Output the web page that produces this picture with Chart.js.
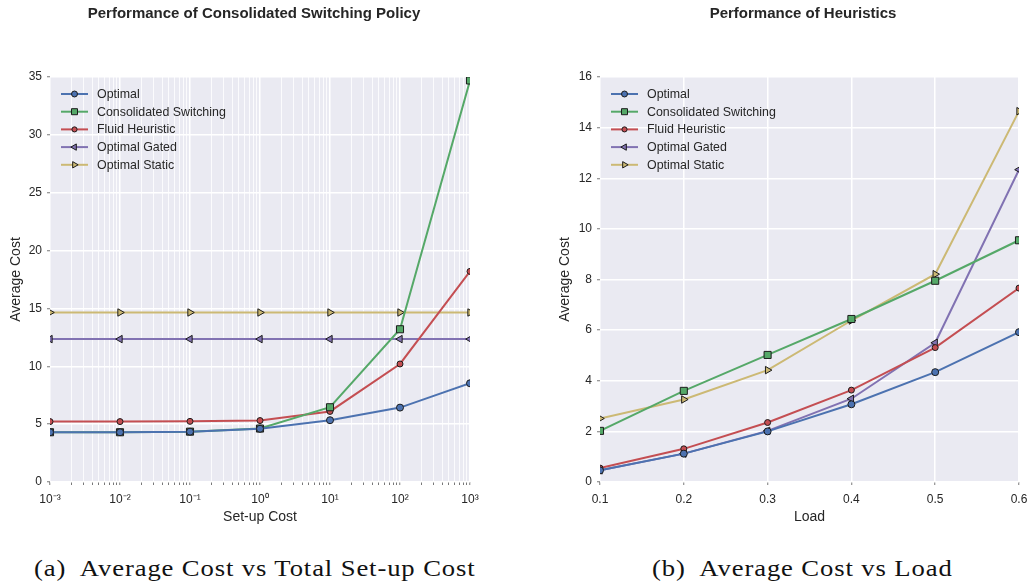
<!DOCTYPE html>
<html>
<head>
<meta charset="utf-8">
<script src="https://cdn.jsdelivr.net/npm/chart.js@4.4.0/dist/chart.umd.min.js"></script>
<style>
  html, body { margin: 0; padding: 0; background: #ffffff; width: 1029px; height: 583px; overflow: hidden; }
  .panel { position: absolute; top: 0; height: 540px; }
  #panelA { left: 0; width: 510px; }
  #panelB { left: 549px; width: 480px; }
  .caption {
    position: absolute; top: 553px;
    font-family: "Liberation Serif", "Times New Roman", serif; font-size: 24px; letter-spacing: 0.8px;
    color: #111; white-space: pre; line-height: 30px;
    transform: scaleX(1.11); transform-origin: left center;
  }
  #capA { left: 34px; }
  #capB { left: 652px; }
</style>
</head>
<body>
<div class="panel" id="panelA"><canvas id="chartA"></canvas></div>
<div class="panel" id="panelB"><canvas id="chartB"></canvas></div>
<div class="caption" id="capA">(a)  Average Cost vs Total Set-up Cost</div>
<div class="caption" id="capB">(b)  Average Cost vs Load</div>
<script>
// ---- data: panel (a), cost as a function of the set-up cost (load 0.6) ----
const setupCosts = [0.001, 0.01, 0.1, 1, 10, 100, 1000];
const setupTickLabels = ['10\u207B\u00B3', '10\u207B\u00B2', '10\u207B\u00B9', '10\u2070', '10\u00B9', '10\u00B2', '10\u00B3'];
const setupOptimal      = [4.30, 4.30, 4.35, 4.60, 5.34, 6.43, 8.53];
const setupConsolidated = [4.30, 4.30, 4.35, 4.62, 6.46, 13.2, 34.7];
const setupFluid        = [5.22, 5.22, 5.24, 5.31, 6.10, 10.2, 18.2];
const setupGated        = [12.35, 12.35, 12.35, 12.35, 12.35, 12.35, 12.35];
const setupStatic       = [14.65, 14.65, 14.65, 14.65, 14.65, 14.65, 14.65];
const costTickLabels    = ['0', '5', '10', '15', '20', '25', '30', '35'];

// ---- data: panel (b), cost as a function of the load ----
const loads = [0.1, 0.2, 0.3, 0.4, 0.5, 0.6];
const loadTickLabels = ['0.1', '0.2', '0.3', '0.4', '0.5', '0.6'];
const loadOptimal      = [0.46, 1.12, 2.00, 3.07, 4.34, 5.92];
const loadConsolidated = [2.02, 3.60, 5.02, 6.44, 7.95, 9.55];
const loadFluid        = [0.55, 1.31, 2.35, 3.63, 5.31, 7.66];
const loadGated        = [0.46, 1.12, 2.02, 3.29, 5.50, 12.34];
const loadStatic       = [2.51, 3.26, 4.42, 6.38, 8.21, 14.65];
const loadCostTickLabels = ['0', '2', '4', '6', '8', '10', '12', '14', '16'];

const seriesNames = ['Optimal', 'Consolidated Switching', 'Fluid Heuristic', 'Optimal Gated', 'Optimal Static'];

// ---- styling ----
const seriesColors = ['#4C72B0', '#55A868', '#C44E52', '#8172B2', '#CCB974'];
const markers = [
  { pointStyle: 'circle',   radius: 3.5, rotation: 0 },
  { pointStyle: 'rect',     radius: 5,   rotation: 0 },
  { pointStyle: 'circle',   radius: 3,   rotation: 0 },
  { pointStyle: 'triangle', radius: 4.3, rotation: 270 },
  { pointStyle: 'triangle', radius: 4.3, rotation: 90 }
];
const FONT = '"Liberation Sans", Arial, sans-serif';
const TEXT = '#262626';
const PLOT_BG = '#EAEAF2';

function buildDatasets(xs, seriesList) {
  return seriesList.map((ys, i) => ({
    label: seriesNames[i],
    data: xs.map((x, j) => ({ x: x, y: ys[j] })),
    borderColor: seriesColors[i],
    backgroundColor: seriesColors[i],
    borderWidth: 2,
    pointStyle: markers[i].pointStyle,
    pointRadius: markers[i].radius,
    pointRotation: markers[i].rotation,
    pointBackgroundColor: seriesColors[i],
    pointBorderColor: '#1c1c1c',
    pointBorderWidth: 1,
    tension: 0,
    clip: 0
  }));
}

// Shaded plotting area behind the grid
const plotBackground = {
  id: 'plotBackground',
  beforeDraw(chart) {
    const { ctx, chartArea: a } = chart;
    ctx.save();
    ctx.fillStyle = PLOT_BG;
    ctx.fillRect(a.left, a.top, a.right - a.left, a.bottom - a.top);
    ctx.restore();
  }
};

// Panel heading, centred on a given x position
const panelHeading = {
  id: 'panelHeading',
  afterDraw(chart, args, opts) {
    const ctx = chart.ctx;
    ctx.save();
    ctx.font = 'bold 15px ' + FONT;
    ctx.fillStyle = TEXT;
    ctx.textAlign = 'center';
    ctx.textBaseline = 'middle';
    ctx.fillText(opts.text, opts.x, opts.y);
    ctx.restore();
  }
};

// Legend inside the plotting area: line sample with its marker, then the name
const innerLegend = {
  id: 'innerLegend',
  afterDatasetsDraw(chart) {
    const { ctx, chartArea: a } = chart;
    const draw = Chart.helpers && Chart.helpers.drawPoint;
    ctx.save();
    chart.data.datasets.forEach((ds, i) => {
      const y = a.top + 17 + i * 17.7;
      ctx.strokeStyle = ds.borderColor;
      ctx.lineWidth = 2;
      ctx.beginPath();
      ctx.moveTo(a.left + 11, y);
      ctx.lineTo(a.left + 38, y);
      ctx.stroke();
      ctx.fillStyle = ds.pointBackgroundColor;
      ctx.strokeStyle = ds.pointBorderColor;
      ctx.lineWidth = 1;
      if (draw) {
        draw(ctx, { pointStyle: ds.pointStyle, radius: ds.pointRadius * 0.85, rotation: ds.pointRotation, borderWidth: 1 }, a.left + 24.5, y);
      }
      ctx.font = '12.4px ' + FONT;
      ctx.fillStyle = TEXT;
      ctx.textAlign = 'left';
      ctx.textBaseline = 'middle';
      ctx.fillText(ds.label, a.left + 47, y + 0.5);
    });
    ctx.restore();
  }
};

const tickFont = { family: FONT, size: 12 };
const titleFont = { family: FONT, size: 14 };

function isDecade(v) {
  const l = Math.log10(v);
  return Math.abs(l - Math.round(l)) < 1e-9;
}

// Fixed-height horizontal axis; end labels may hang past the plot edges
function fitHorizontal(scale) {
  scale.height = 58;
  scale.paddingLeft = 0;
  scale.paddingRight = 0;
}

// ---- panel (a) ----
new Chart(document.getElementById('chartA'), {
  type: 'line',
  data: { datasets: buildDatasets(setupCosts, [setupOptimal, setupConsolidated, setupFluid, setupGated, setupStatic]) },
  plugins: [plotBackground, panelHeading, innerLegend],
  options: {
    responsive: true,
    maintainAspectRatio: false,
    animation: false,
    events: [],
    layout: { padding: { top: 77, right: 40, left: 0, bottom: 0 } },
    plugins: {
      legend: { display: false },
      tooltip: { enabled: false },
      panelHeading: { text: 'Performance of Consolidated Switching Policy', x: 254, y: 14 }
    },
    scales: {
      x: {
        type: 'logarithmic',
        min: setupCosts[0],
        max: setupCosts[setupCosts.length - 1],
        afterBuildTicks(scale) {
          const vals = [];
          for (let e = -3; e < 3; e++) {
            for (let k = 1; k < 10; k++) vals.push(Number((k * Math.pow(10, e)).toPrecision(6)));
          }
          vals.push(1000);
          scale.ticks = vals.map(v => ({ value: v, major: isDecade(v) }));
        },
        afterFit: fitHorizontal,
        ticks: {
          autoSkip: false, maxRotation: 0, minRotation: 0, padding: 7,
          color: TEXT, font: tickFont,
          callback(value) {
            if (!isDecade(value)) return '';
            return setupTickLabels[Math.round(Math.log10(value)) + 3];
          }
        },
        grid: {
          color: '#ffffff',
          lineWidth: ctx => (ctx.tick && isDecade(ctx.tick.value)) ? 1.5 : 0.8,
          drawTicks: true, tickLength: 3, tickColor: '#555555', tickWidth: 0.8
        },
        border: { display: false },
        title: { display: true, text: 'Set-up Cost', color: TEXT, font: titleFont, padding: { top: 0, bottom: 14 } }
      },
      y: {
        min: 0, max: 35,
        ticks: {
          stepSize: 5, color: TEXT, font: tickFont, padding: 5,
          callback(value) { return costTickLabels[Math.round(value / 5)]; }
        },
        afterFit(scale) { scale.width = 50; },
        grid: { color: '#ffffff', lineWidth: 1.5, drawTicks: true, tickLength: 3, tickColor: '#555555', tickWidth: 0.8 },
        border: { display: false },
        title: { display: true, text: 'Average Cost', color: TEXT, font: titleFont, padding: { top: 8, bottom: 0 } }
      }
    }
  }
});

// ---- panel (b) ----
new Chart(document.getElementById('chartB'), {
  type: 'line',
  data: { datasets: buildDatasets(loads, [loadOptimal, loadConsolidated, loadFluid, loadGated, loadStatic]) },
  plugins: [plotBackground, panelHeading, innerLegend],
  options: {
    responsive: true,
    maintainAspectRatio: false,
    animation: false,
    events: [],
    layout: { padding: { top: 77, right: 10, left: 0, bottom: 0 } },
    plugins: {
      legend: { display: false },
      tooltip: { enabled: false },
      panelHeading: { text: 'Performance of Heuristics', x: 803 - 549, y: 14 }
    },
    scales: {
      x: {
        type: 'linear',
        min: loads[0],
        max: loads[loads.length - 1],
        afterBuildTicks(scale) {
          scale.ticks = loads.map(v => ({ value: v }));
        },
        afterFit: fitHorizontal,
        ticks: {
          autoSkip: false, maxRotation: 0, minRotation: 0, padding: 7,
          color: TEXT, font: tickFont,
          callback(value, index) { return loadTickLabels[index]; }
        },
        grid: { color: '#ffffff', lineWidth: 1.5, drawTicks: true, tickLength: 3, tickColor: '#555555', tickWidth: 0.8 },
        border: { display: false },
        title: { display: true, text: 'Load', color: TEXT, font: titleFont, padding: { top: 0, bottom: 14 } }
      },
      y: {
        min: 0, max: 16,
        ticks: {
          stepSize: 2, color: TEXT, font: tickFont, padding: 5,
          callback(value) { return loadCostTickLabels[Math.round(value / 2)]; }
        },
        afterFit(scale) { scale.width = 51; },
        grid: { color: '#ffffff', lineWidth: 1.5, drawTicks: true, tickLength: 3, tickColor: '#555555', tickWidth: 0.8 },
        border: { display: false },
        title: { display: true, text: 'Average Cost', color: TEXT, font: titleFont, padding: { top: 8, bottom: 0 } }
      }
    }
  }
});
</script>
</body>
</html>
